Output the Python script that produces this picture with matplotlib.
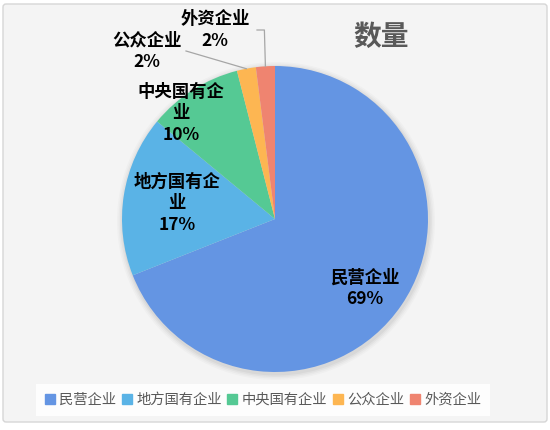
import matplotlib
matplotlib.use("Agg")
import matplotlib.pyplot as plt
from matplotlib.patches import FancyBboxPatch, Circle
from matplotlib.lines import Line2D
import numpy as np

plt.rcParams['font.family'] = ['Noto Sans CJK SC', 'DejaVu Sans']

# Data
categories = ["民营企业", "地方国有企业", "中央国有企业", "公众企业", "外资企业"]
shares = [69, 17, 10, 2, 2]
label_texts = ["民营企业\n69%", "地方国有企\n业\n17%", "中央国有企\n业\n10%", "公众企业\n2%", "外资企业\n2%"]
title = "数量"

colors = ["#6495E3", "#5AB3E6", "#55C994", "#FDB652", "#EF8470"]

W, H = 550, 430
fig = plt.figure(figsize=(W / 100, H / 100), dpi=100, facecolor="white")
ax = fig.add_axes([0, 0, 1, 1])

# chart panel
panel = FancyBboxPatch((3, 8), 544, 418, boxstyle="round,pad=0,rounding_size=3",
                       facecolor="#f4f4f4", edgecolor="#d6d6d6", linewidth=1.0, zorder=0)
ax.add_patch(panel)

cx, cy, R = 275, 211, 153

# soft shadow behind the pie
for i, a in enumerate([0.035, 0.03, 0.025, 0.02]):
    ax.add_patch(Circle((cx + 1, cy - 2), R + 1.5 + i * 1.5, facecolor="black",
                        alpha=a, edgecolor="none", zorder=1))

wedges, _ = ax.pie(shares, colors=colors, startangle=90, counterclock=False,
                   center=(cx, cy), radius=R, frame=True,
                   wedgeprops=dict(linewidth=0, edgecolor="none", zorder=2))
for w in wedges:
    w.set_zorder(2)

ax.set_xlim(0, W)
ax.set_ylim(0, H)
ax.set_aspect("equal")
ax.axis("off")

lab_kw = dict(ha="center", va="center", fontsize=12.5, fontweight="bold",
              color="black", linespacing=1.25, zorder=5)

# inside labels
ax.text(365, H - 288, label_texts[0], **lab_kw)
ax.text(177, H - 203, label_texts[1], **lab_kw)
ax.text(181, H - 113, label_texts[2], **lab_kw)

# outside labels with leader lines
ax.text(147, H - 51, label_texts[3], **lab_kw)
ax.text(215, H - 30, label_texts[4], **lab_kw)

def edge_point(w, frac=1.0):
    ang = np.deg2rad((w.theta1 + w.theta2) / 2)
    return cx + R * frac * np.cos(ang), cy + R * frac * np.sin(ang)

ex, ey = edge_point(wedges[3])
ax.add_line(Line2D([186, ex], [H - 51, ey], color="#a6a6a6", lw=0.9, zorder=4))
ex, ey = edge_point(wedges[4])
ax.add_line(Line2D([257, ex - 1, ex], [H - 30, H - 30, ey], color="#a6a6a6", lw=0.9, zorder=4))

# title
ax.text(381, H - 37, title, ha="center", va="center", fontsize=20,
        fontweight="bold", color="#595959", zorder=5)

# legend
handles = [Line2D([0], [0], marker="s", linestyle="none", markersize=7,
                  markerfacecolor=c, markeredgecolor=c) for c in colors]
leg = ax.legend(handles, categories, loc="center", bbox_to_anchor=(263 / W, 1 - 400 / H),
                ncol=5, frameon=True, fontsize=10.3, handlelength=0.7,
                handletextpad=0.3, columnspacing=0.4, borderpad=0.4)
leg.get_frame().set_facecolor("white")
leg.get_frame().set_edgecolor("none")
leg.get_frame().set_alpha(0.85)
leg.get_frame().set_boxstyle("square", pad=0.2)
for t in leg.get_texts():
    t.set_color("#595959")

fig.savefig("out.png", dpi=100, facecolor="white")
